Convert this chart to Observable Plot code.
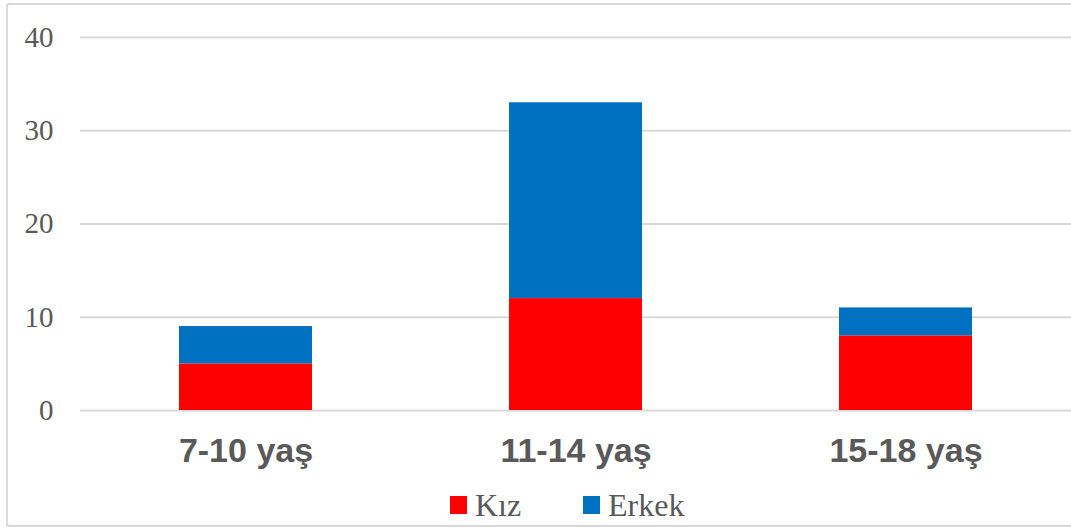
<!DOCTYPE html>
<html><head><meta charset="utf-8">
<script src="https://cdn.jsdelivr.net/npm/d3@7"></script>
<script src="https://cdn.jsdelivr.net/npm/@observablehq/plot@0.6"></script>
<style>
html,body{margin:0;padding:0;background:#fff;overflow:hidden}
#wrap{position:relative;width:1071px;height:529px}
#frame{position:absolute;left:6px;top:3px;width:1080px;height:520px;border:2px solid #d9d9d9;border-right:none;border-radius:3px}
#chart{position:absolute;left:0;top:0}
#legend{position:absolute;left:0;top:488px;width:1071px;font-family:"Liberation Serif","Times New Roman",serif;font-size:32px;color:#595959}
.item{position:absolute;top:0;display:flex;align-items:center;height:34px}
.sw{width:17px;height:18px;margin-right:8px}
</style></head><body>
<div id="wrap"><div id="frame"></div><div id="chart"></div><div id="legend"></div></div>
<script>
const categories = ["7-10 yaş", "11-14 yaş", "15-18 yaş"];
const series = ["Kız", "Erkek"];
const kiz = [5, 12, 8];
const erkek = [4, 21, 3];
const colors = ["#ff0000", "#0070c0"];
const yTicks = [0, 10, 20, 30, 40];

const data = [];
categories.forEach((c, i) => {
  data.push({cat: c, s: "Kız", v: kiz[i]});
  data.push({cat: c, s: "Erkek", v: erkek[i]});
});

const plot = Plot.plot({
  width: 1071,
  height: 480,
  marginLeft: 80,
  marginRight: 0,
  marginTop: 37,
  marginBottom: 70,
  x: {domain: categories, paddingInner: 0.597, paddingOuter: 0.2985, label: null},
  y: {domain: [0, 40], label: null},
  color: {domain: series, range: colors},
  marks: [
    Plot.ruleY(yTicks, {stroke: "#d9d9d9", strokeWidth: 2}),
    Plot.barY(data, Plot.stackY({x: "cat", y: "v", fill: "s", order: series})),
    Plot.axisY({ticks: yTicks, tickSize: 0, tickPadding: 27, fontSize: 29, fontFamily: "Liberation Serif", fill: "#595959", label: null}),
    Plot.axisX({tickSize: 0, tickPadding: 27, fontSize: 34, fontWeight: "bold", fontFamily: "Liberation Sans", fill: "#595959", label: null})
  ]
});
document.getElementById("chart").appendChild(plot);

const legend = document.getElementById("legend");
const lx = [450, 583];
series.forEach((s, i) => {
  const d = document.createElement("div");
  d.className = "item";
  d.style.left = lx[i] + "px";
  d.innerHTML = `<span class="sw" style="background:${colors[i]}"></span><span>${s}</span>`;
  legend.appendChild(d);
});
</script>
</body></html>
